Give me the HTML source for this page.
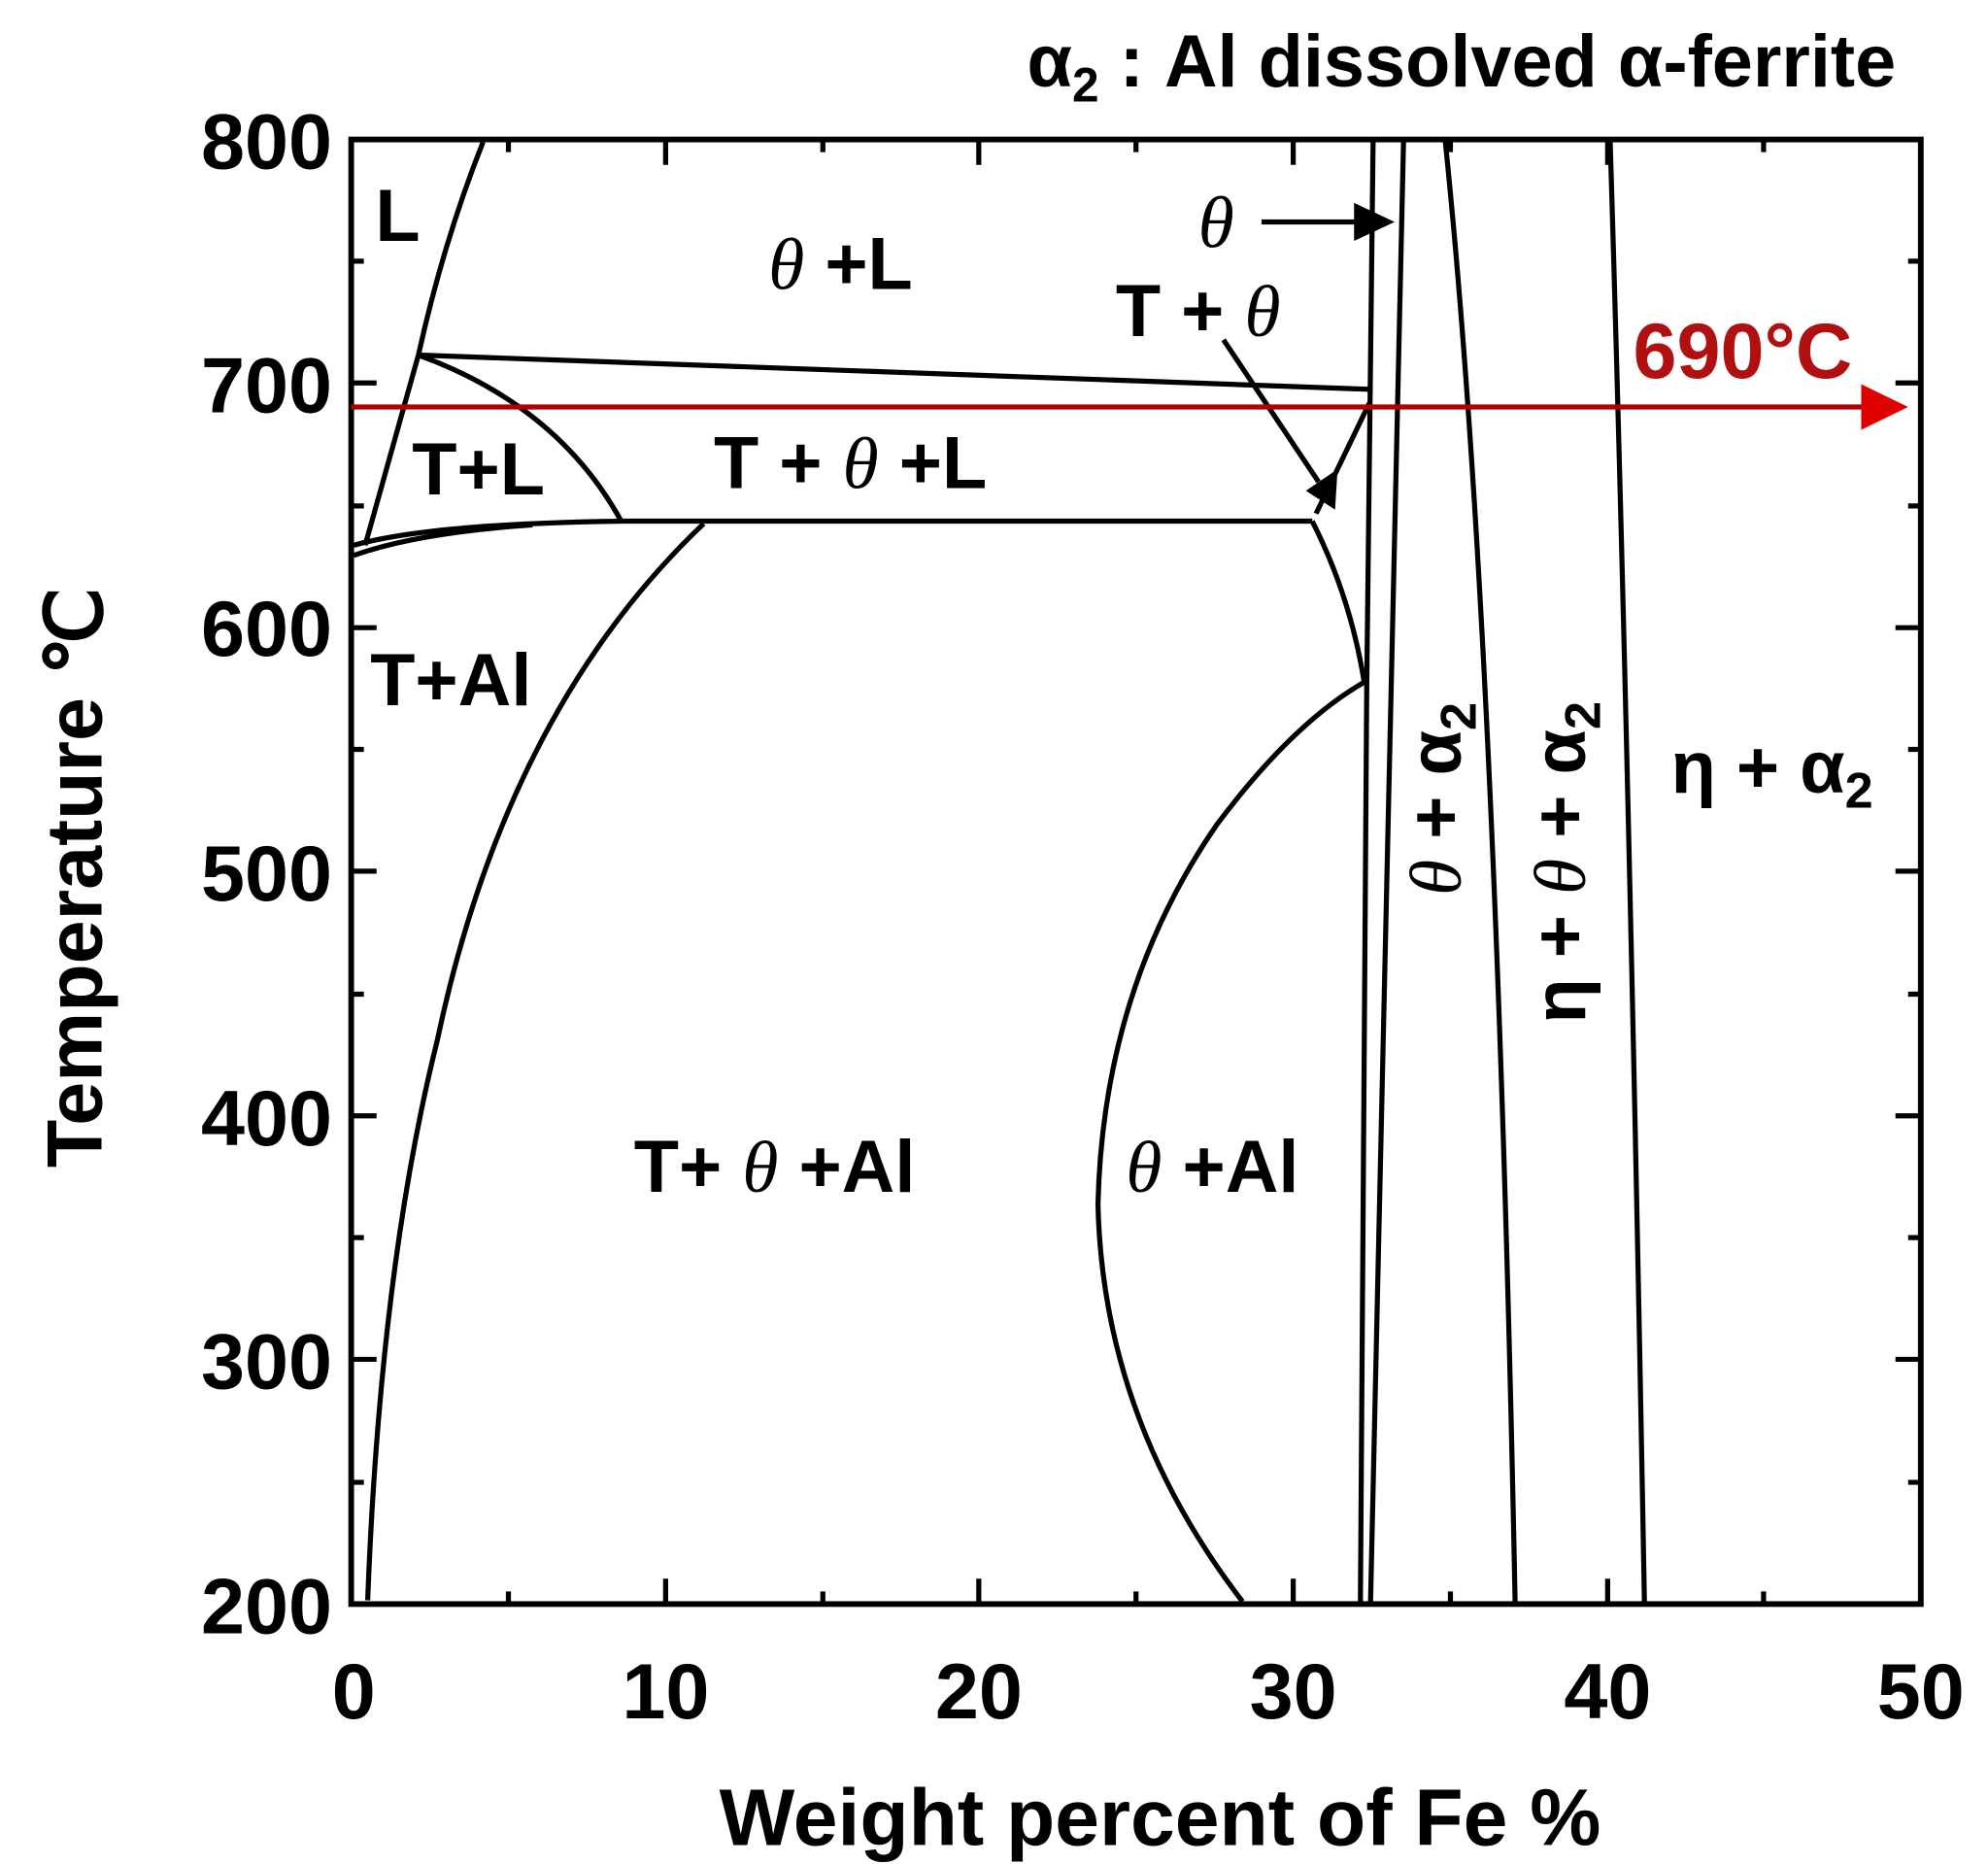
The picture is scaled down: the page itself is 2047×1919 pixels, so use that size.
<!DOCTYPE html>
<html><head><meta charset="utf-8"><style>html,body{margin:0;padding:0;background:#fff}svg{display:block}</style></head>
<body>
<svg width="2047" height="1919" viewBox="0 0 1568 1470" preserveAspectRatio="none" xmlns="http://www.w3.org/2000/svg" font-family="Liberation Sans, Arial, sans-serif" font-weight="bold">
<g fill="none" stroke="#000" stroke-width="4">
<rect x="277" y="110" width="1238" height="1155" stroke-width="4.5"/>
<path d="M401,1265v-10M525,1265v-20M649,1265v-10M772,1265v-20M896,1265v-10M1020,1265v-20M1144,1265v-10M1268,1265v-20M1391,1265v-10
M401,110v10M525,110v20M649,110v10M772,110v20M896,110v10M1020,110v20M1144,110v10M1268,110v20M1391,110v10
M277,1169h10M277,1072h20M277,976h10M277,880h20M277,784h10M277,687h20M277,591h10M277,495h20M277,399h10M277,302h20M277,206h10
M1515,1169h-10M1515,1072h-20M1515,976h-10M1515,880h-20M1515,784h-10M1515,687h-20M1515,591h-10M1515,495h-20M1515,399h-10M1515,302h-20M1515,206h-10"/>
<path d="M381,112 Q350,190 330,280 Q305,370 288,430"/>
<path d="M290,1262 Q300,1000 345,820 Q400,560 555,413"/>
<path d="M279,430 Q340,413 490,411 L1035,411"/>
<path d="M279,438 Q330,420 420,414"/>
<path d="M330,280 L1080,307"/>
<path d="M330,280 Q440,320 490,411"/>
<path d="M1035,411 Q1065,470 1076,538"/>
<path d="M1038,405 L1080,318"/>
<path d="M980,1263 Q870,1120 866,950 Q870,780 960,650 Q1020,570 1076,538"/>
<path d="M1083,112 L1078,540 L1073,1263"/>
<path d="M1107,112 Q1095,600 1081,1263"/>
<path d="M1140,112 Q1180,500 1195,1263"/>
<path d="M1270,112 Q1285,600 1297,1263"/>
<path d="M995,175 L1075,175"/>
<path d="M965,268 L1040,380"/>
</g>
<polygon points="1068,160 1100,175 1068,190" fill="#000"/>
<polygon points="1030,387 1055,370 1053,402" fill="#000"/>
<line x1="277" y1="321" x2="1478" y2="321" stroke="#b00000" stroke-width="4"/>
<polygon points="1468,303 1505,321 1468,339" fill="#e00000"/>
<text x="1288" y="298" font-size="62" fill="#b01010">690°C</text>
<text x="810" y="68" font-size="58">α<tspan font-size="38" dy="12">2</tspan><tspan dy="-12"> : Al dissolved α-ferrite</tspan></text>
<g font-size="62" text-anchor="end">
<text x="262" y="133">800</text><text x="262" y="325">700</text><text x="262" y="517">600</text>
<text x="262" y="710">500</text><text x="262" y="903">400</text><text x="262" y="1095">300</text><text x="262" y="1288">200</text>
</g>
<g font-size="62" text-anchor="middle">
<text x="279" y="1355">0</text><text x="525" y="1355">10</text><text x="772" y="1355">20</text>
<text x="1020" y="1355">30</text><text x="1268" y="1355">40</text><text x="1515" y="1355">50</text>
<text x="915" y="1455" font-size="63">Weight percent of Fe %</text>
</g>
<text transform="translate(80,692) rotate(-90)" font-size="62" text-anchor="middle">Temperature ℃</text>
<g font-size="58">
<text x="296" y="190">L</text>
<text x="606" y="228"><tspan font-style="italic" font-weight="normal" font-family="Liberation Serif, serif">θ</tspan> +L</text>
<text x="880" y="265">T + <tspan font-style="italic" font-weight="normal" font-family="Liberation Serif, serif">θ</tspan></text>
<text x="945" y="195" font-style="italic" font-weight="normal" font-family="Liberation Serif, serif">θ</text>
<text x="325" y="390">T+L</text>
<text x="563" y="385">T + <tspan font-style="italic" font-weight="normal" font-family="Liberation Serif, serif">θ</tspan> +L</text>
<text x="292" y="556">T+Al</text>
<text x="500" y="940">T+  <tspan font-style="italic" font-weight="normal" font-family="Liberation Serif, serif">θ</tspan>  +Al</text>
<text x="888" y="940"><tspan font-style="italic" font-weight="normal" font-family="Liberation Serif, serif">θ</tspan>  +Al</text>
<text x="1318" y="625">η + α<tspan font-size="40" dy="12">2</tspan></text>
<text transform="translate(1152,630) rotate(-90)" text-anchor="middle"><tspan font-style="italic" font-weight="normal" font-family="Liberation Serif, serif">θ</tspan> + α<tspan font-size="40" dy="12">2</tspan></text>
<text transform="translate(1250,680) rotate(-90)" text-anchor="middle">η + <tspan font-style="italic" font-weight="normal" font-family="Liberation Serif, serif">θ</tspan> + α<tspan font-size="40" dy="12">2</tspan></text>
</g>
</svg>
</body></html>
